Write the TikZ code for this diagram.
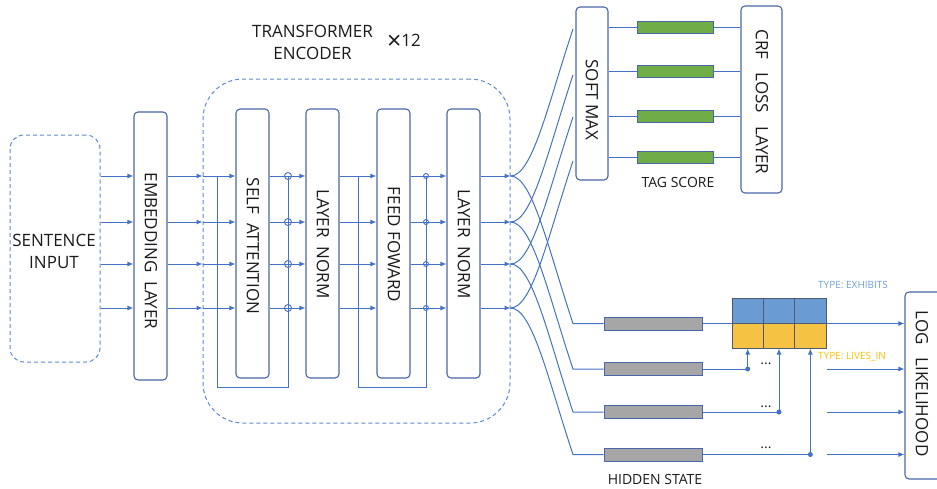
\documentclass[tikz,border=0pt]{standalone}
\usepackage{fontspec}
\setmainfont{Open Sans}
\usetikzlibrary{arrows.meta}
\definecolor{lb}{HTML}{4472C4}
\definecolor{bxc}{HTML}{4A66A8}
\definecolor{dsh}{HTML}{5F8AD3}
\definecolor{txc}{HTML}{1A1A1A}
\definecolor{grn}{HTML}{70AD47}
\definecolor{gry}{HTML}{A6A6A6}
\definecolor{cb}{HTML}{6A9BD3}
\definecolor{cy}{HTML}{F5C244}
\definecolor{tb}{HTML}{6FA0DA}
\definecolor{ty}{HTML}{FFC000}
\definecolor{grd}{HTML}{4D5A70}
\begin{document}
\begin{tikzpicture}[x=1pt,y=-1pt,
  blk/.style={draw=bxc,line width=1.1pt,rounded corners=4pt,inner sep=0pt},
  dbox/.style={draw=dsh,line width=1pt,dash pattern=on 4pt off 3pt,inner sep=0pt},
  lbl/.style={font=\fontsize{17}{22}\selectfont,text=txc,inner sep=0pt},
  small/.style={font=\fontsize{14}{16}\selectfont,text=txc,inner sep=0pt},
  tiny/.style={font=\fontsize{10}{12}\selectfont,inner sep=0pt},
  ln/.style={draw=lb,line width=1pt},
  arr/.style={ln,-{Latex[length=6pt,width=5pt]}},
  gbar/.style={draw=bxc,fill=grn,line width=1pt,inner sep=0pt,minimum width=76pt,minimum height=12pt},
  hbar/.style={draw=bxc,fill=gry,line width=1pt,inner sep=0pt,minimum width=98pt,minimum height=13pt},
  cell/.style={draw=grd,line width=1pt,inner sep=0pt,minimum width=31.33pt,minimum height=25pt},
  circ/.style={draw=lb,circle,line width=0.9pt,inner sep=0pt},
  dotn/.style={fill=lb,circle,inner sep=0pt,minimum size=5pt}
]
\useasboundingbox (0,0) rectangle (937,488);
\clip (0,0) rectangle (937,488);

% main boxes
\node[dbox,rounded corners=14pt,minimum width=90pt,minimum height=227pt] (sent) at (55,248.5) {};
\node[lbl,align=center] at (54,251) {SENTENCE\\INPUT};
\node[blk,minimum width=33pt,minimum height=268pt] (emb) at (150.5,246) {};
\node[lbl,rotate=-90] at (151,251) {EMBEDDING\ \ LAYER};

\node[dbox,rounded corners=40pt,minimum width=307pt,minimum height=344pt] (tr) at (356.5,251) {};
\node[lbl,align=center] at (312.5,42) {TRANSFORMER\\ENCODER};
\node[lbl,anchor=west] at (387,42) {{\fontsize{25}{25}\selectfont\raisebox{-2.5pt}{×}}12};

\node[blk,minimum width=33pt,minimum height=269pt] (sa) at (252.5,243.5) {};
\node[lbl,rotate=-90] at (253,246) {SELF\ \ ATTENTION};
\node[blk,minimum width=33pt,minimum height=269pt] (ln1) at (322.5,243.5) {};
\node[lbl,rotate=-90] at (323,244) {LAYER\ \ NORM};
\node[blk,minimum width=33pt,minimum height=269pt] (ff) at (393.5,243.5) {};
\node[lbl,rotate=-90] at (394,244.5) {FEED FOWARD};
\node[blk,minimum width=33pt,minimum height=269pt] (ln2) at (463.5,243.5) {};
\node[lbl,rotate=-90] at (464,244) {LAYER\ \ NORM};

\node[blk,minimum width=32pt,minimum height=173pt] (soft) at (592,93.5) {};
\node[lbl,rotate=-90] at (592,100) {SOFT MAX};
\node[blk,minimum width=41pt,minimum height=187pt] (crf) at (761.5,99.5) {};
\node[lbl,rotate=-90] at (762,102) {CRF\ \ \ LOSS\ \ \ LAYER};
\node[blk,minimum width=55pt,minimum height=187pt] (log) at (932.5,385.5) {};
\node[lbl,rotate=-90] at (922,383.5) {LOG\ \ \ LIKELIHOOD};

% rows
\foreach \i/\y in {1/176,2/222,3/264,4/308}{
  \coordinate (r\i) at (0,\y);
  \draw[arr] (sent.east |- r\i) -- (emb.west |- r\i);
  \draw[arr] (emb.east |- r\i) -- (tr.west |- r\i);
  \draw[arr] (tr.west |- r\i) -- (sa.west |- r\i);
  \node[circ,minimum size=7pt] (ca\i) at (288,\y) {};
  \node[circ,minimum size=5pt] (cb\i) at (426,\y) {};
  \draw[arr] (sa.east |- r\i) -- (ln1.west |- r\i);
  \draw[arr] (ln1.east |- r\i) -- (ff.west |- r\i);
  \draw[arr] (ff.east |- r\i) -- (ln2.west |- r\i);
  \draw[arr] (ln2.east |- r\i) -- (tr.east |- r\i);
}
% residual loops
\coordinate (s1) at (217,176);
\coordinate (s1b) at (217,387);
\draw[ln] (s1) -- (s1b) -| (ca1.center);
\coordinate (s2) at (358,176);
\coordinate (s2b) at (358,387);
\draw[ln] (s2) -- (s2b) -| (cb1.center);

% tag score bars
\foreach \i/\y in {1/27,2/71,3/116,4/157}{
  \node[gbar] (g\i) at (675,\y) {};
  \draw[ln] (soft.east |- g\i) -- (g\i.west);
  \draw[ln] (g\i.east) -- (crf.west |- g\i);
}
\node[small] at (678,182) {TAG SCORE};

% hidden state bars
\foreach \i/\y in {1/323.5,2/369,3/412,4/454.5}{
  \node[hbar] (hb\i) at (653,\y) {};
}
\node[small] at (655,479) {HIDDEN STATE};

% fan-out curves
\coordinate (dx) at (573,0);
\foreach \i/\y in {1/176,2/222,3/264,4/308}{
  \coordinate (u\i) at (573,\y-147);
  \draw[ln] (tr.east |- r\i) .. controls +(22,0) and +(-25,75) .. (u\i);
  \draw[ln] (tr.east |- r\i) .. controls +(22,0) and +(-25,-75) .. (hb\i.west -| dx) -- (hb\i.west);
}

% grid
\node[cell,fill=cb] (b1) at (747.67,310.5) {};
\node[cell,fill=cb] (b2) at (779,310.5) {};
\node[cell,fill=cb] (b3) at (810.33,310.5) {};
\node[cell,fill=cy] (y1) at (747.67,335.5) {};
\node[cell,fill=cy] (y2) at (779,335.5) {};
\node[cell,fill=cy] (y3) at (810.33,335.5) {};
\node[tiny,text=tb,anchor=west] at (818,285) {TYPE: EXHIBITS};
\node[tiny,text=ty,anchor=west] at (818,357) {TYPE: LIVES\_IN};

\draw[ln] (hb1.east) -- (hb1.east -| b1.west);
\draw[arr] (hb1.east -| b3.east) -- (hb1.east -| log.west);

\node[dotn] (dt2) at (y1.south |- hb2.east) {};
\node[dotn] (dt3) at (y2.south |- hb3.east) {};
\node[dotn] (dt4) at (y3.south |- hb4.east) {};
\draw[ln] (hb2.east) -- (dt2.center);
\draw[ln] (hb3.east) -- (dt3.center);
\draw[ln] (hb4.east) -- (dt4.center);
\draw[arr] (dt2.center) -- (y1.south);
\draw[arr] (dt3.center) -- (y2.south);
\draw[arr] (dt4.center) -- (y3.south);
\node[small] at (766,364) {...};
\node[small] at (766,407) {...};
\node[small] at (766,448) {...};

\foreach \i in {2,3,4}{
  \coordinate (la\i) at (827,0);
  \draw[arr] (hb\i.east -| la\i) -- (hb\i.east -| log.west);
}
\end{tikzpicture}
\end{document}
